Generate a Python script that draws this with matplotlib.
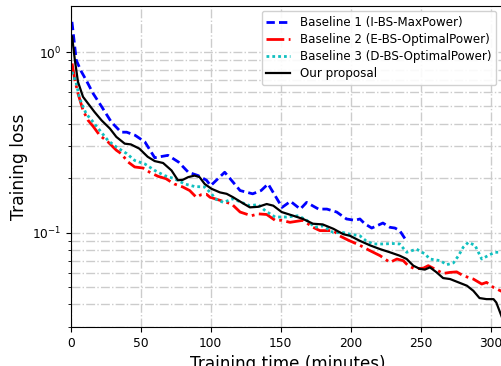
import matplotlib
matplotlib.use("Agg")
import matplotlib.pyplot as plt
from matplotlib.ticker import NullFormatter

# Baseline 1 (I-BS-MaxPower)
t_b1 = [0.9, 4, 7.6, 11, 16, 22, 29, 36, 40, 46, 53, 60, 69.5, 77, 84, 91, 97, 100,
        110, 121, 130, 136, 141, 151, 157, 164, 168.5, 177, 183, 190, 197, 203, 206.6,
        210, 215, 218.6, 223, 228, 231.6, 235, 239]
v_b1 = [1.47, 0.90, 0.78, 0.70, 0.59, 0.50, 0.41, 0.36, 0.36, 0.346, 0.318, 0.26, 0.268,
        0.246, 0.216, 0.207, 0.195, 0.182, 0.216, 0.171, 0.164, 0.171, 0.186, 0.138, 0.149,
        0.135, 0.147, 0.135, 0.135, 0.13, 0.119, 0.117, 0.119, 0.112, 0.106, 0.109, 0.113,
        0.107, 0.106, 0.1026, 0.092]

# Baseline 2 (E-BS-OptimalPower)
t_b2 = [1, 3, 5.2, 8.8, 12.4, 16, 20.7, 26.6, 32.6, 36, 41, 45.7, 51.6, 56.4, 62.4, 68,
        74, 80, 85, 89.7, 93, 97, 99.5, 106.6, 115, 121, 129, 134, 140, 146, 150.7, 156.6,
        166, 173, 178, 183, 187.6, 192, 198, 206.6, 213.8, 221, 228, 233, 237.6, 241,
        246, 252, 255.4, 260, 266, 271, 275.7, 280.4, 287.6, 293.6, 297, 302, 308]
v_b2 = [0.865, 0.70, 0.59, 0.476, 0.419, 0.388, 0.346, 0.318, 0.286, 0.274, 0.246, 0.231,
        0.228, 0.216, 0.205, 0.199, 0.186, 0.179, 0.171, 0.157, 0.162, 0.163, 0.157, 0.151,
        0.144, 0.13, 0.124, 0.127, 0.126, 0.117, 0.117, 0.114, 0.117, 0.107, 0.1026, 0.1026,
        0.1026, 0.096, 0.091, 0.085, 0.0794, 0.0745, 0.0684, 0.0714, 0.0699, 0.0656, 0.0629,
        0.0636, 0.0656, 0.0629, 0.0594, 0.0602, 0.0606, 0.0577, 0.0553, 0.0519, 0.053,
        0.0497, 0.0472]

# Baseline 3 (D-BS-OptimalPower)
t_b3 = [1, 4, 6.4, 11, 16, 20.7, 26.6, 32.6, 40, 45.7, 53, 60, 67, 74, 81.4, 88.5, 95.7,
        100.7, 103, 109, 116, 122, 128, 134, 139, 146, 154, 162.6, 168.6, 174.5, 180,
        187.6, 194.7, 199.5, 206.6, 211, 216, 223, 230, 235, 240, 247, 253, 256.6, 264,
        268.6, 273.4, 277, 280.4, 284, 288.8, 293.6, 298, 303, 308]
v_b3 = [0.778, 0.67, 0.553, 0.456, 0.41, 0.369, 0.324, 0.298, 0.274, 0.251, 0.24, 0.221,
        0.207, 0.199, 0.186, 0.18, 0.179, 0.164, 0.154, 0.147, 0.154, 0.147, 0.141, 0.143,
        0.132, 0.122, 0.122, 0.124, 0.117, 0.107, 0.109, 0.1, 0.1, 0.098, 0.096, 0.09,
        0.0865, 0.0865, 0.087, 0.0865, 0.0778, 0.081, 0.0762, 0.0714, 0.0699, 0.0664, 0.068,
        0.0745, 0.083, 0.0883, 0.085, 0.0714, 0.0745, 0.0778, 0.0778]

# Our proposal
t_ours = [1, 3, 5.2, 8.8, 12.4, 17, 22, 28, 32.6, 38.6, 43, 49, 55, 60, 66, 72, 76.6, 80,
          84, 88.5, 92, 95.7, 100.5, 106.6, 111.4, 116, 122, 128, 134, 140, 144.7, 150.7,
          159, 166, 173, 180, 187.6, 194.7, 199.5, 206.6, 213.8, 221, 228, 235, 240,
          244.7, 249.5, 253, 256.6, 261.4, 266, 271, 277, 283, 287.6, 292, 297, 302, 304,
          308]
v_ours = [1.22, 0.90, 0.684, 0.565, 0.519, 0.466, 0.419, 0.377, 0.339, 0.311, 0.308, 0.292,
          0.263, 0.249, 0.243, 0.221, 0.195, 0.196, 0.203, 0.207, 0.203, 0.186, 0.175,
          0.167, 0.164, 0.157, 0.147, 0.138, 0.139, 0.144, 0.141, 0.13, 0.124, 0.119, 0.112,
          0.111, 0.105, 0.098, 0.096, 0.090, 0.085, 0.081, 0.0778, 0.0745, 0.0714, 0.0656,
          0.0629, 0.0624, 0.0642, 0.0602, 0.056, 0.0553, 0.053, 0.0508, 0.0476, 0.0434,
          0.0428, 0.0428, 0.041, 0.034]

labels = ["Baseline 1 (I-BS-MaxPower)", "Baseline 2 (E-BS-OptimalPower)",
          "Baseline 3 (D-BS-OptimalPower)", "Our proposal"]

fig = plt.figure(figsize=(5.01, 3.66), dpi=100)
ax = fig.add_axes([70.7 / 501, 39 / 366, 434 / 501, 321 / 366])

ax.plot(t_b1, v_b1, color="blue", linestyle=(0, (3, 1.5)), linewidth=2, label=labels[0])
ax.plot(t_b2, v_b2, color="red", linestyle="-.", linewidth=2, label=labels[1])
ax.plot(t_b3, v_b3, color="#11c0c0", linestyle=(0, (1, 1.1)), linewidth=2, label=labels[2])
ax.plot(t_ours, v_ours, color="black", linestyle="-", linewidth=1.6, label=labels[3])

ax.set_yscale("log")
ax.set_xlim(0, 310)
ax.set_ylim(0.03, 1.8)
ax.set_xticks([0, 50, 100, 150, 200, 250, 300])
ax.yaxis.set_minor_formatter(NullFormatter())
ax.tick_params(labelsize=8.8)

ax.grid(True, which="major", axis="both", linestyle="-.", color="#cccccc", linewidth=1)
ax.grid(True, which="minor", axis="y", linestyle="-.", color="#cccccc", linewidth=1)
ax.set_axisbelow(True)

ax.set_xlabel("Training time (minutes)", fontsize=12.1)
ax.set_ylabel("Training loss", fontsize=12.3)
ax.yaxis.set_label_coords(-0.098, 0.5)

ax.legend(loc="upper right", bbox_to_anchor=(496 / 501, 1 - 11 / 366),
          bbox_transform=fig.transFigure, borderaxespad=0, fontsize=8.6,
          handlelength=2.0, labelspacing=0.35, framealpha=0.9)

fig.savefig("out.png", dpi=100)
